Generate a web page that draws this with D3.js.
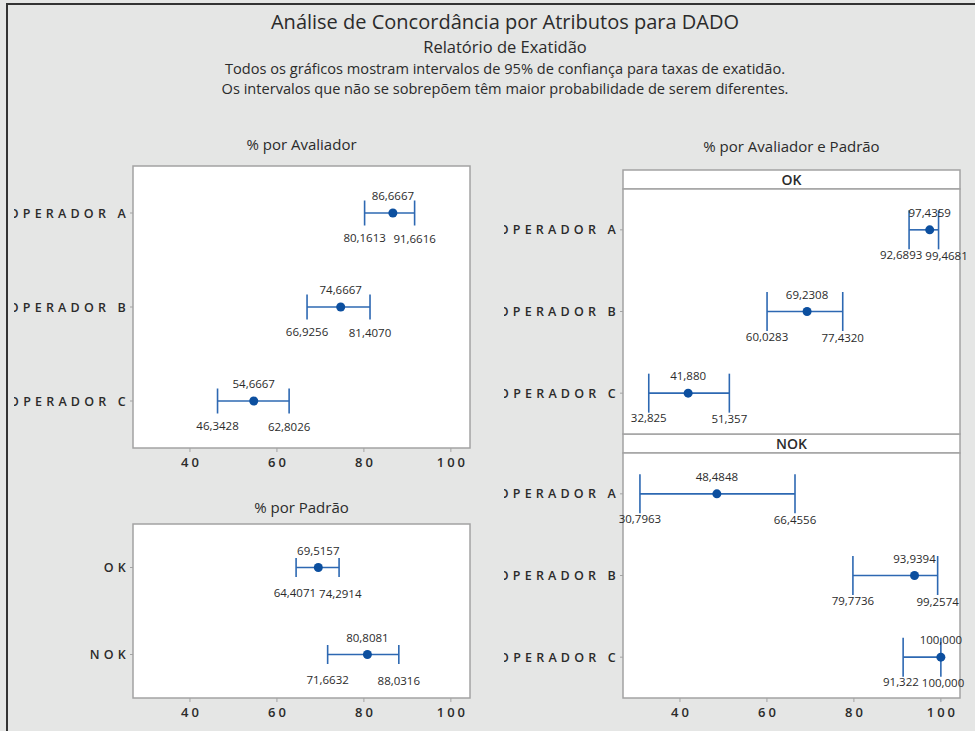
<!DOCTYPE html>
<html lang="pt">
<head>
<meta charset="UTF-8">
<title>Análise de Concordância por Atributos para DADO</title>
<style>
  body { margin: 0; background: #e5e6e5; }
  svg { display: block; }
  text { font-family: "Open Sans", sans-serif; fill: #2b2b2b; }
  .frame { fill: none; stroke: #333; stroke-width: 2px; }
  .box { fill: #fff; stroke: #a3a3a3; stroke-width: 1.5px; }
  .ci { stroke: #2d68b2; stroke-width: 1.6px; fill: none; }
  .dot { fill: #0c4f9f; }
  .val { font-size: 11.5px; }
  .ylab { font-size: 12.5px; font-weight: 600; letter-spacing: 4.2px; }
  .xlab { font-size: 13px; font-weight: 600; letter-spacing: 3px; }
  .tick { stroke: #a3a3a3; stroke-width: 1px; }
  .ptitle { font-size: 15px; }
  .strip-lab { font-size: 14px; font-weight: 600; }
</style>
<script src="https://d3js.org/d3.v7.min.js"></script>
</head>
<body>
<svg></svg>
<script>
const operadores = ["OPERADOR A", "OPERADOR B", "OPERADOR C"];
const padroes = ["OK", "NOK"];
const xTicks = [40, 60, 80, 100];

// % por Avaliador
const avalMedia = [86.6667, 74.6667, 54.6667];
const avalInf = [80.1613, 66.9256, 46.3428];
const avalSup = [91.6616, 81.4070, 62.8026];
const avalCasas = [4, 4, 4];

// % por Padrão
const padMedia = [69.5157, 80.8081];
const padInf = [64.4071, 71.6632];
const padSup = [74.2914, 88.0316];
const padCasas = [4, 4];

// % por Avaliador e Padrão - OK
const okMedia = [97.4359, 69.2308, 41.880];
const okInf = [92.6893, 60.0283, 32.825];
const okSup = [99.4681, 77.4320, 51.357];
const okCasas = [4, 4, 3];

// % por Avaliador e Padrão - NOK
const nokMedia = [48.4848, 93.9394, 100.000];
const nokInf = [30.7963, 79.7736, 91.322];
const nokSup = [66.4556, 99.2574, 100.000];
const nokCasas = [4, 4, 3];

const width = 975, height = 731;
const svg = d3.select("svg").attr("width", width).attr("height", height);
const br = d3.formatLocale({ decimal: ",", thousands: ".", grouping: [3], currency: ["", ""] });

// moldura
svg.append("path").attr("class", "frame")
    .attr("d", `M7,${height} V4 H${width}`);

// títulos
const titulos = [
    { t: "Análise de Concordância por Atributos para DADO", y: 28.8, s: 20, w: 400 },
    { t: "Relatório de Exatidão", y: 52.5, s: 16.5, w: 400 },
    { t: "Todos os gráficos mostram intervalos de 95% de confiança para taxas de exatidão.", y: 74, s: 14.6, w: 400 },
    { t: "Os intervalos que não se sobrepõem têm maior probabilidade de serem diferentes.", y: 94, s: 14.6, w: 400 }
];
svg.selectAll(".titulo").data(titulos).enter().append("text")
    .attr("class", "titulo")
    .attr("x", 505).attr("y", d => d.y)
    .attr("text-anchor", "middle")
    .style("font-size", d => d.s + "px")
    .style("font-weight", d => d.w)
    .text(d => d.t);

let clipId = 0;

function painel(cfg) {
    const g = svg.append("g");
    const x = d3.scaleLinear().domain([26.9, 104.4]).range([cfg.left, cfg.right]);
    const y = d3.scalePoint().domain(cfg.cats).range([cfg.top, cfg.bottom]).padding(0.5);

    g.append("rect").attr("class", "box")
        .attr("x", cfg.left).attr("y", cfg.top)
        .attr("width", cfg.right - cfg.left).attr("height", cfg.bottom - cfg.top);

    // rótulos do eixo y (cortados à esquerda)
    const id = "clip" + (clipId++);
    g.append("clipPath").attr("id", id).append("rect")
        .attr("x", cfg.left - 119).attr("y", cfg.top).attr("width", 119).attr("height", cfg.bottom - cfg.top);
    const yl = g.append("g").attr("clip-path", `url(#${id})`);
    cfg.cats.forEach(c => {
        yl.append("line").attr("class", "tick")
            .attr("x1", cfg.left - 3).attr("x2", cfg.left).attr("y1", y(c)).attr("y2", y(c));
        yl.append("text").attr("class", "ylab")
            .attr("x", cfg.left - 3).attr("y", y(c)).attr("dy", "0.36em")
            .attr("text-anchor", "end").text(c);
    });

    if (cfg.eixoX) {
        xTicks.forEach(t => {
            g.append("line").attr("class", "tick")
                .attr("x1", x(t)).attr("x2", x(t))
                .attr("y1", cfg.bottom).attr("y2", cfg.bottom + 4);
            g.append("text").attr("class", "xlab")
                .attr("x", x(t) + 1.5).attr("y", cfg.bottom + 19)
                .attr("text-anchor", "middle").text(t);
        });
    }

    cfg.cats.forEach((c, i) => {
        const cy = y(c), h = cfg.cap;
        const fmt = br.format(`.${cfg.casas[i]}f`);
        g.append("line").attr("class", "ci")
            .attr("x1", x(cfg.inf[i])).attr("x2", x(cfg.sup[i])).attr("y1", cy).attr("y2", cy);
        [cfg.inf[i], cfg.sup[i]].forEach(v => {
            g.append("line").attr("class", "ci")
                .attr("x1", x(v)).attr("x2", x(v)).attr("y1", cy - h).attr("y2", cy + h);
        });
        g.append("circle").attr("class", "dot")
            .attr("cx", x(cfg.media[i])).attr("cy", cy).attr("r", 4.5);

        g.append("text").attr("class", "val")
            .attr("x", x(cfg.media[i])).attr("y", cy - 13)
            .attr("text-anchor", "middle").text(fmt(cfg.media[i]));
        const lo = g.append("text").attr("class", "val")
            .attr("x", x(cfg.inf[i])).attr("y", cy + 29)
            .attr("text-anchor", "middle").text(fmt(cfg.inf[i]));
        const hi = g.append("text").attr("class", "val")
            .attr("x", x(cfg.sup[i])).attr("y", cy + 30)
            .attr("text-anchor", "middle").text(fmt(cfg.sup[i]));
        // afasta rótulos que se sobrepõem
        const need = (lo.node().getComputedTextLength() + hi.node().getComputedTextLength()) / 2 + 3;
        const have = x(cfg.sup[i]) - x(cfg.inf[i]);
        if (have < need) {
            const d = (need - have) / 2;
            lo.attr("x", x(cfg.inf[i]) - d);
            hi.attr("x", x(cfg.sup[i]) + d);
        }
    });
}

// % por Avaliador
svg.append("text").attr("class", "ptitle").attr("x", 301.5).attr("y", 150)
    .attr("text-anchor", "middle").text("% por Avaliador");
painel({ left: 133, right: 470, top: 166, bottom: 448, cats: operadores,
    media: avalMedia, inf: avalInf, sup: avalSup, casas: avalCasas, cap: 12.5, eixoX: true });

// % por Padrão
svg.append("text").attr("class", "ptitle").attr("x", 301.5).attr("y", 513)
    .attr("text-anchor", "middle").text("% por Padrão");
painel({ left: 133, right: 470, top: 524, bottom: 698, cats: padroes,
    media: padMedia, inf: padInf, sup: padSup, casas: padCasas, cap: 9.5, eixoX: true });

// % por Avaliador e Padrão
svg.append("text").attr("class", "ptitle").attr("x", 791.5).attr("y", 152)
    .attr("text-anchor", "middle").text("% por Avaliador e Padrão");
[{ lab: "OK", top: 170 }, { lab: "NOK", top: 434 }].forEach(s => {
    svg.append("rect").attr("class", "box")
        .attr("x", 623).attr("y", s.top).attr("width", 337).attr("height", 19);
    svg.append("text").attr("class", "strip-lab")
        .attr("x", 791.5).attr("y", s.top + 15).attr("text-anchor", "middle").text(s.lab);
});
painel({ left: 623, right: 960, top: 189, bottom: 434, cats: operadores,
    media: okMedia, inf: okInf, sup: okSup, casas: okCasas, cap: 19.5, eixoX: false });
painel({ left: 623, right: 960, top: 453, bottom: 698, cats: operadores,
    media: nokMedia, inf: nokInf, sup: nokSup, casas: nokCasas, cap: 19.5, eixoX: true });
</script>
</body>
</html>
